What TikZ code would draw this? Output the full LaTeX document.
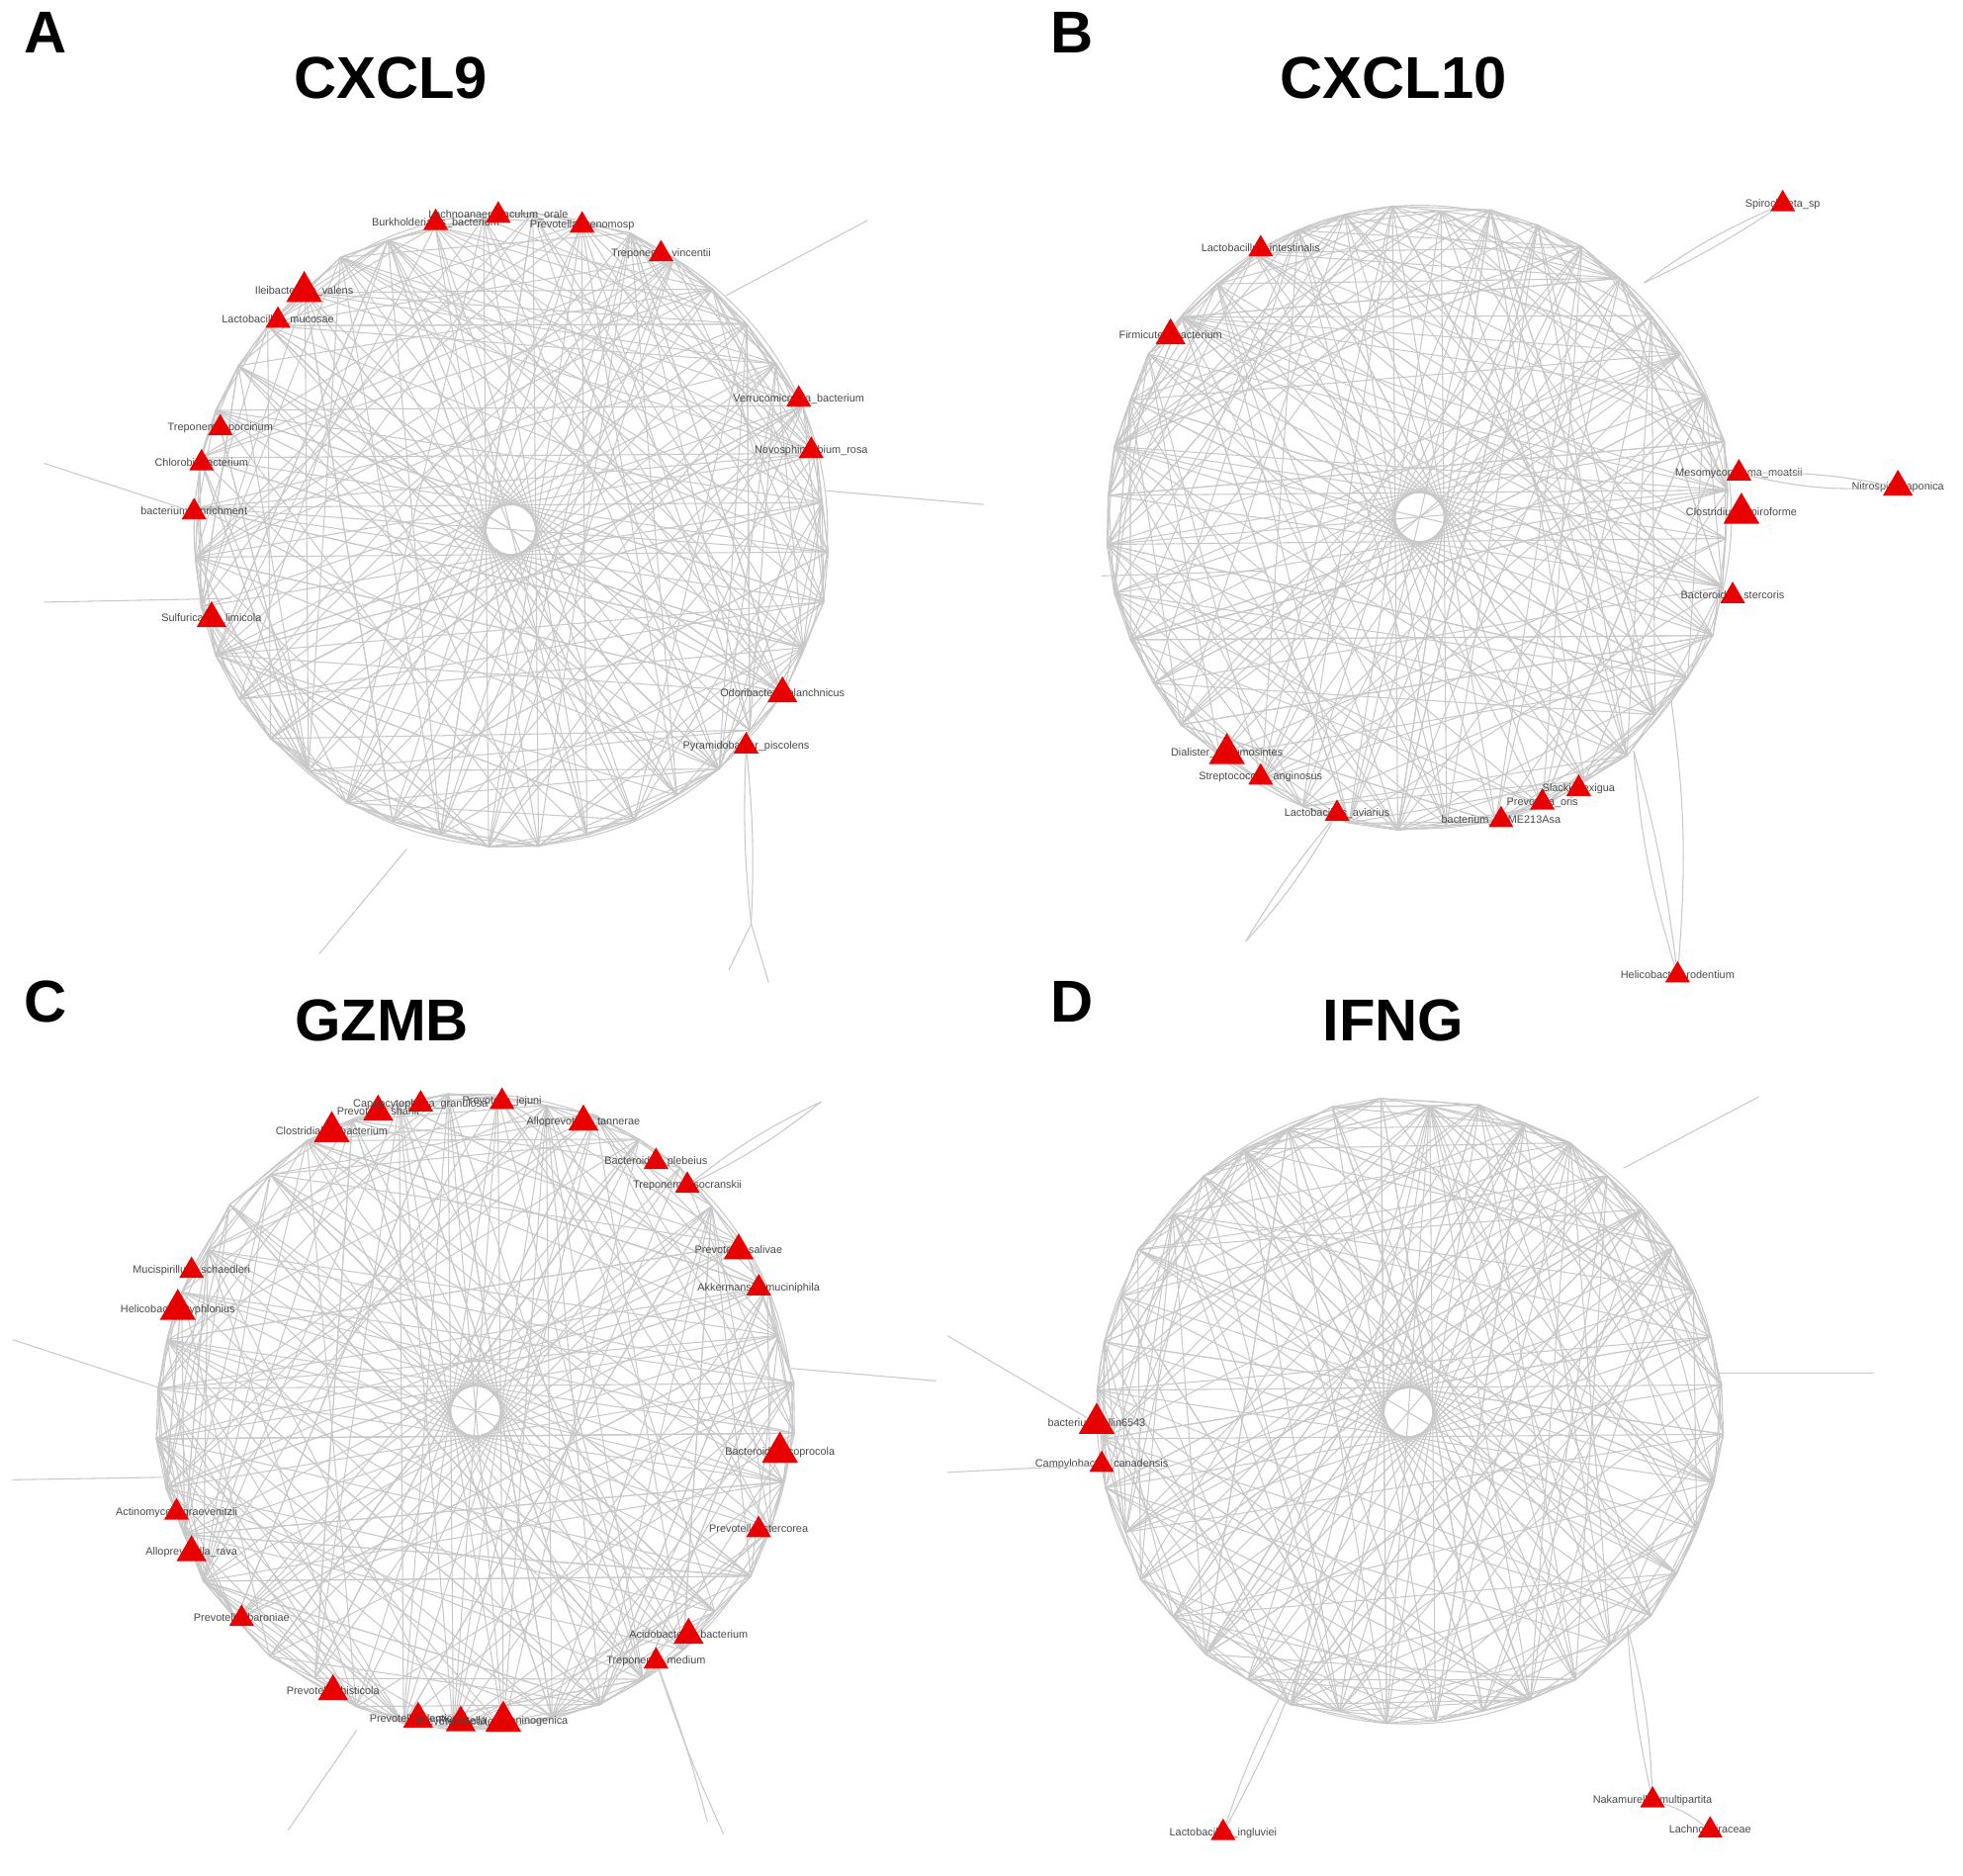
\documentclass[tikz,border=0pt]{standalone}
\usepackage{fontspec}
\setmainfont{Liberation Sans}
\usetikzlibrary{shapes.geometric,calc}

\definecolor{nodered}{RGB}{232,0,0}
\definecolor{edgegray}{RGB}{200,200,200}
\definecolor{lblgray}{RGB}{72,72,72}

\tikzset{
  edge/.style={draw=edgegray, line width=0.3pt},
  tri/.style={regular polygon, regular polygon sides=3, fill=nodered,
    inner sep=0pt, minimum size=0.29cm},
  trim/.style={tri, minimum size=0.35cm},
  trib/.style={tri, minimum size=0.42cm},
  taxlbl/.style={font=\fontsize{3.1}{4}\selectfont, text=lblgray, inner sep=0pt},
  paneltitle/.style={font=\fontsize{17}{20}\selectfont\bfseries},
}

%% ring of chords: prefix, centre, radius, seed
\newcommand{\netring}[4]{%
  \pgfmathsetseed{#4}
  \foreach \i in {0,...,39}{
    \pgfmathsetmacro{\rr}{#3+8*rnd-4}
    \coordinate (#1-\i) at ($(#2)+(\i*9+4:\rr)$);
  }
  \draw[edge] (#2) circle[radius=#3];
  \foreach \k in {1,2,19}{
    \foreach \i in {0,...,39}{
      \pgfmathtruncatemacro{\j}{mod(\i+\k,40)}
      \draw[edge] (#1-\i) -- (#1-\j);
    }
  }
  \foreach \n in {1,...,200}{
    \pgfmathtruncatemacro{\a}{random(0,39)}
    \pgfmathtruncatemacro{\b}{mod(\a+random(3,37),40)}
    \draw[edge] (#1-\a) -- (#1-\b);
  }
}

%% taxon: name, position, style, text
\newcommand{\taxon}[4]{%
  \node[taxlbl] (#1-l) at (#2) {#4};
  \node[#3] (#1) at (#2) {};
}

\begin{document}
\begin{tikzpicture}[x=0.012659cm, y=-0.012659cm]
  \useasboundingbox (0,0) rectangle (1568,1498);

  %% ---------------- A : CXCL9
  \node[paneltitle] (lA) at (36,26) {A};
  \node[paneltitle] (tA) at (312,62) {CXCL9};
  \netring{A}{408,423}{253}{11}
  \coordinate (A-h1) at (580,236);  \coordinate (A-o1) at (693,176);
  \coordinate (A-h2) at (660,392);  \coordinate (A-o2) at (786,403);
  \coordinate (A-o3) at (35,370);
  \coordinate (A-o4) at (35,481);   \coordinate (A-h4) at (185,478);
  \coordinate (A-h5) at (325,678);  \coordinate (A-o5) at (255,762);
  \coordinate (A-o6) at (600,738);  \coordinate (A-o7) at (614,785);
  \coordinate (A-o8) at (582,775);
  \draw[edge] (A-h1) -- (A-o1);
  \draw[edge] (A-h2) -- (A-o2);
  \draw[edge] (A-h4) -- (A-o4);
  \draw[edge] (A-h5) -- (A-o5);

  \taxon{burk}{348,178}{tri}{Burkholderiales\_bacterium}
  \taxon{lach}{398,172}{tri}{Lachnoanaerobaculum\_orale}
  \taxon{pgen}{465,180}{tri}{Prevotella\_genomosp}
  \taxon{tvin}{528,203}{tri}{Treponema\_vincentii}
  \taxon{ilei}{243,233}{trib}{Ileibacterium\_valens}
  \taxon{lmuc}{222,256}{tri}{Lactobacillus\_mucosae}
  \taxon{tpor}{176,342}{tri}{Treponema\_porcinum}
  \taxon{chlo}{161,370}{tri}{Chlorobi\_bacterium}
  \taxon{benr}{155,409}{tri}{bacterium\_enrichment}
  \taxon{sulf}{169,494}{trim}{Sulfuricaulis\_limicola}
  \taxon{verr}{638,319}{tri}{Verrucomicrobia\_bacterium}
  \taxon{novo}{648,360}{tri}{Novosphingobium\_rosa}
  \taxon{odor}{625,554}{trim}{Odoribacter\_splanchnicus}
  \taxon{pyra}{596,596}{tri}{Pyramidobacter\_piscolens}
  \draw[edge] (A-o3) -- (benr);
  \draw[edge] (pyra) to[bend left=4] (A-o6);
  \draw[edge] (pyra) to[bend right=4] (A-o6);
  \draw[edge] (A-o6) -- (A-o7);
  \draw[edge] (A-o6) -- (A-o8);

  %% ---------------- B : CXCL10
  \node[paneltitle] (lB) at (856,26) {B};
  \node[paneltitle] (tB) at (1113,62) {CXCL10};
  \netring{B}{1134,413}{249}{23}
  \coordinate (B-o1) at (880,460);  \coordinate (B-h1) at (1010,456);
  \coordinate (B-h2) at (1313,226);
  \coordinate (B-o3) at (995,752);
  \coordinate (B-h4) at (1305,600);
  \coordinate (B-h5) at (1335,560);
  \draw[edge] (B-o1) -- (B-h1);

  \taxon{lint}{1007,199}{tri}{Lactobacillus\_intestinalis}
  \taxon{firm}{935,268}{trim}{Firmicutes\_bacterium}
  \taxon{spir}{1424,163}{tri}{Spirochaeta\_sp}
  \taxon{meso}{1389,378}{tri}{Mesomycoplasma\_moatsii}
  \taxon{nitr}{1516,389}{trim}{Nitrospira\_japonica}
  \taxon{cspi}{1391,410}{trib}{Clostridium\_spiroforme}
  \taxon{bste}{1384,476}{tri}{Bacteroides\_stercoris}
  \taxon{dial}{980,602}{trib}{Dialister\_pneumosintes}
  \taxon{sang}{1007,621}{tri}{Streptococcus\_anginosus}
  \taxon{lavi}{1068,650}{tri}{Lactobacillus\_aviarius}
  \taxon{bxme}{1199,655}{tri}{bacterium\_1XME213Asa}
  \taxon{pori}{1232,641}{tri}{Prevotella\_oris}
  \taxon{slac}{1261,630}{tri}{Slackia\_exigua}
  \taxon{hrod}{1340,779}{tri}{Helicobacter\_rodentium}
  \draw[edge] (B-h2) to[bend left=6] (spir);
  \draw[edge] (B-h2) to[bend right=4] (spir);
  \draw[edge] (meso) to[bend left=6] (nitr);
  \draw[edge] (meso) to[bend right=8] (nitr);
  \draw[edge] (lavi) to[bend left=6] (B-o3);
  \draw[edge] (lavi) to[bend right=4] (B-o3);
  \draw[edge] (B-h4) to[bend right=6] (hrod);
  \draw[edge] (B-h4) to[bend left=4] (hrod);
  \draw[edge] (B-h5) to[bend left=6] (hrod);

  %% ---------------- C : GZMB
  \node[paneltitle] (lC) at (36,800) {C};
  \node[paneltitle] (tC) at (305,815) {GZMB};
  \netring{C}{380,1127}{253}{37}
  \coordinate (C-o1) at (656,880);
  \coordinate (C-o2) at (10,1070);   \coordinate (C-h2) at (132,1110);
  \coordinate (C-h3) at (632,1093);  \coordinate (C-o3) at (748,1103);
  \coordinate (C-o4) at (10,1182);   \coordinate (C-h4) at (130,1180);
  \coordinate (C-h5) at (285,1382);  \coordinate (C-o5) at (230,1462);
  \coordinate (C-o6) at (565,1455);  \coordinate (C-o7) at (578,1465);
  \draw[edge] (C-o2) -- (C-h2);
  \draw[edge] (C-h3) -- (C-o3);
  \draw[edge] (C-o4) -- (C-h4);
  \draw[edge] (C-h5) -- (C-o5);

  \taxon{clos}{265,904}{trib}{Clostridiales\_bacterium}
  \taxon{psha}{302,888}{trim}{Prevotella\_shahii}
  \taxon{capn}{336,882}{tri}{Capnocytophaga\_granulosa}
  \taxon{pjej}{401,880}{tri}{Prevotella\_jejuni}
  \taxon{atan}{466,896}{trim}{Alloprevotella\_tannerae}
  \taxon{bple}{524,928}{tri}{Bacteroides\_plebeius}
  \taxon{tsoc}{549,947}{tri}{Treponema\_socranskii}
  \taxon{psal}{590,999}{trim}{Prevotella\_salivae}
  \taxon{akke}{606,1029}{tri}{Akkermansia\_muciniphila}
  \taxon{msch}{153,1015}{tri}{Mucispirillum\_schaedleri}
  \taxon{htyp}{142,1046}{trib}{Helicobacter\_typhlonius}
  \taxon{bcop}{623,1160}{trib}{Bacteroides\_coprocola}
  \taxon{pste}{606,1222}{tri}{Prevotella\_stercorea}
  \taxon{agra}{141,1208}{tri}{Actinomyces\_graevenitzii}
  \taxon{arav}{153,1240}{trim}{Alloprevotella\_rava}
  \taxon{pbar}{193,1293}{tri}{Prevotella\_baroniae}
  \taxon{acid}{550,1306}{trim}{Acidobacteria\_bacterium}
  \taxon{tmed}{524,1327}{tri}{Treponema\_medium}
  \taxon{phis}{266,1351}{trim}{Prevotella\_histicola}
  \taxon{pden}{334,1373}{trim}{Prevotella\_denticola}
  \taxon{ppal}{368,1376}{trim}{Prevotella\_pallens}
  \taxon{pmel}{402,1375}{trib}{Prevotella\_melaninogenica}
  \draw[edge] (tsoc) to[bend left=6] (C-o1);
  \draw[edge] (tsoc) to[bend right=6] (C-o1);
  \draw[edge] (tmed) to[bend left=3] (C-o6);
  \draw[edge] (tmed) to[bend right=3] (C-o7);

  %% ---------------- D : IFNG
  \node[paneltitle] (lD) at (856,800) {D};
  \node[paneltitle] (tD) at (1113,815) {IFNG};
  \netring{D}{1125,1128}{249}{53}
  \coordinate (D-o1) at (757,1067);
  \coordinate (D-o2) at (757,1176);
  \coordinate (D-h3) at (1297,933);  \coordinate (D-o3) at (1405,876);
  \coordinate (D-h4) at (1372,1097); \coordinate (D-o4) at (1497,1097);
  \coordinate (D-h5) at (1040,1325);
  \coordinate (D-h6) at (1300,1300);
  \draw[edge] (D-h3) -- (D-o3);
  \draw[edge] (D-h4) -- (D-o4);

  \taxon{ball}{876,1137}{trib}{bacterium\_Allin6543}
  \taxon{ccan}{880,1170}{tri}{Campylobacter\_canadensis}
  \taxon{ling}{977,1464}{tri}{Lactobacillus\_ingluviei}
  \taxon{naka}{1320,1438}{tri}{Nakamurella\_multipartita}
  \taxon{lchn}{1366,1462}{tri}{Lachnospiraceae}
  \draw[edge] (D-o1) -- (ball);
  \draw[edge] (D-o2) -- (ccan);
  \draw[edge] (D-h5) to[bend right=6] (ling);
  \draw[edge] (D-h5) to[bend left=4] (ling);
  \draw[edge] (D-h6) to[bend left=6] (naka);
  \draw[edge] (D-h6) to[bend right=4] (naka);
  \draw[edge] (naka) to[bend left=10] (lchn);

\end{tikzpicture}
\end{document}
